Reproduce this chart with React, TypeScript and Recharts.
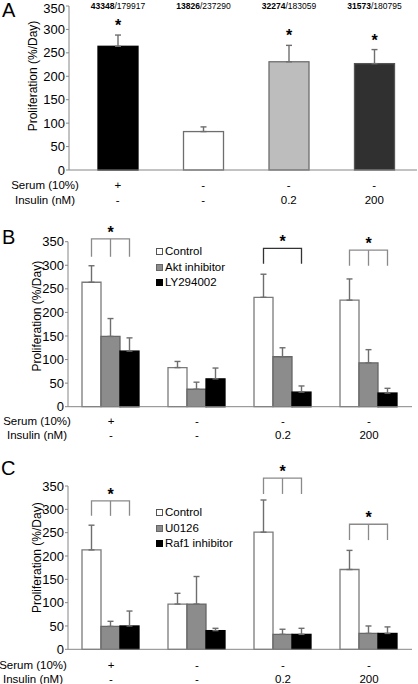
import { Bar, BarChart, Cell, ErrorBar, Legend, XAxis, YAxis } from 'recharts'

const FONT = '"Liberation Sans", Arial, Helvetica, sans-serif'
const AXIS_GRAY = '#868686'

const groups = ['serum', 'basal', 'ins02', 'ins200']
const serumRow = ['+', '-', '-', '-']
const insulinRow = ['-', '-', '0.2', '200']
const yTicks = [0, 50, 100, 150, 200, 250, 300, 350]

// panel A
const aMeans = [264, 82, 231, 227]
const aErrors = [24, 10, 35, 30]
const aCountsBold = ['43348', '13826', '32274', '31573']
const aCountsTotal = ['179917', '237290', '183059', '180795']
const aSignificant = [true, false, true, true]

// panel B
const bNames = ['Control', 'Akt inhibitor', 'LY294002']
const bControl = [264, 83, 232, 226]
const bControlErr = [35, 13, 49, 45]
const bAkt = [149, 37, 106, 93]
const bAktErr = [38, 15, 19, 28]
const bLy = [118, 59, 31, 29]
const bLyErr = [28, 23, 13, 10]
const bBracketTop = [356, null, 336, 332]
const bBracketBottom = [318, null, 303, 299]
const bBracketMid = [true, false, false, true]

// panel C
const cNames = ['Control', 'U0126', 'Raf1 inhibitor']
const cControl = [213, 97, 251, 171]
const cControlErr = [53, 23, 69, 41]
const cU0126 = [49, 97, 32, 34]
const cU0126Err = [11, 59, 11, 16]
const cRaf1 = [50, 40, 32, 34]
const cRaf1Err = [32, 5, 13, 14]
const cBracketTop = [318, null, 367, 268]
const cBracketBottom = [286, null, 333, 234]
const cBracketMid = [true, false, true, true]

const A_FILLS = ['#000000', '#ffffff', '#bdbdbd', '#303030']
const A_STROKES = ['#000000', '#6e6e6e', '#6e6e6e', '#555555']
const TRIPLE_FILLS = ['#ffffff', '#8c8c8c', '#000000']
const TRIPLE_STROKES = ['#7a7a7a', '#666666', '#000000']

const aData = groups.map((g, i) => ({
  group: g,
  mean: aMeans[i],
  err: [0, aErrors[i]],
  bold: aCountsBold[i],
  total: aCountsTotal[i],
  star: aSignificant[i],
}))

function tripleData(
  s0: number[], e0: number[], s1: number[], e1: number[], s2: number[], e2: number[],
  top: (number | null)[], bottom: (number | null)[], mid: boolean[],
) {
  return groups.map((g, i) => ({
    group: g,
    s0: s0[i], e0: [0, e0[i]],
    s1: s1[i], e1: [0, e1[i]],
    s2: s2[i], e2: [0, e2[i]],
    bracketTop: top[i],
    bracketBottom: bottom[i],
    bracketMid: mid[i],
  }))
}

const bData = tripleData(bControl, bControlErr, bAkt, bAktErr, bLy, bLyErr, bBracketTop, bBracketBottom, bBracketMid)
const cData = tripleData(cControl, cControlErr, cU0126, cU0126Err, cRaf1, cRaf1Err, cBracketTop, cBracketBottom, cBracketMid)

function makeRowTick(labelX: number, serumDy: number, insulinDy: number) {
  return function RowTick(props: any) {
    const { x, y, index } = props
    return (
      <g fontFamily={FONT} fontSize={11.5} fill="#000">
        <text x={x} y={y + serumDy} textAnchor="middle" dominantBaseline="central">{serumRow[index]}</text>
        <text x={x} y={y + insulinDy} textAnchor="middle" dominantBaseline="central">{insulinRow[index]}</text>
        {index === 0 && (
          <>
            <text x={labelX} y={y + serumDy} textAnchor="middle" dominantBaseline="central">Serum (10%)</text>
            <text x={labelX} y={y + insulinDy} textAnchor="middle" dominantBaseline="central">Insulin (nM)</text>
          </>
        )}
      </g>
    )
  }
}

function makeYLabel(cx: number, dy: number) {
  return function YLabel(props: any) {
    const vb = props.viewBox
    const cy = vb.y + vb.height / 2 + dy
    return (
      <text
        x={cx}
        y={cy}
        transform={`rotate(-90 ${cx} ${cy})`}
        textAnchor="middle"
        dominantBaseline="central"
        fontFamily={FONT}
        fontSize={12}
        fill="#000"
      >
        Proliferation (%/Day)
      </text>
    )
  }
}

function Star({ x, y }: { x: number; y: number }) {
  // y is the visual centre of the asterisk
  return (
    <text x={x} y={y + 9} textAnchor="middle" fontFamily={FONT} fontSize={16} fontWeight="bold" fill="#000">
      *
    </text>
  )
}

function ABarShape(props: any) {
  const { x, y, width, height, fill, stroke, payload } = props
  const ppu = height / payload.mean
  const base = y + height
  const errTop = base - (payload.mean + payload.err[1]) * ppu
  const plotTop = base - 350 * ppu
  const cx = x + width / 2
  return (
    <g>
      <rect x={x} y={y} width={width} height={height} fill={fill} stroke={stroke} strokeWidth={1.3} />
      <text x={cx} y={plotTop + 3} textAnchor="middle" fontFamily={FONT} fontSize={8.5} fill="#000">
        <tspan fontWeight="bold">{payload.bold}</tspan>/{payload.total}
      </text>
      {payload.star && <Star x={cx} y={errTop - 13} />}
    </g>
  )
}

function makeBracketShape(color: (i: number) => string) {
  return function BracketShape(props: any) {
    const { x, y, width, height, fill, stroke, payload, index } = props
    const ppu = height / payload.s2
    const base = y + height
    const x3 = x + width / 2
    const x2 = x3 - width
    const x1 = x3 - 2 * width
    const hasBracket = payload.bracketTop != null
    const topY = base - (payload.bracketTop ?? 0) * ppu
    const bottomY = base - (payload.bracketBottom ?? 0) * ppu
    const c = color(index)
    return (
      <g>
        <rect x={x} y={y} width={width} height={height} fill={fill} stroke={stroke} strokeWidth={1.3} />
        {hasBracket && (
          <g stroke={c} strokeWidth={1.3} fill="none">
            <polyline points={`${x1},${bottomY} ${x1},${topY} ${x3},${topY} ${x3},${bottomY}`} />
            {payload.bracketMid && <line x1={x2} y1={topY} x2={x2} y2={bottomY} />}
          </g>
        )}
        {hasBracket && <Star x={x2} y={topY - 10} />}
      </g>
    )
  }
}

function makeLegend(names: string[]) {
  return function SeriesLegend() {
    return (
      <div style={{ fontFamily: FONT, fontSize: 11.5, lineHeight: '15.5px', color: '#000' }}>
        {names.map((n, i) => (
          <div key={n} style={{ display: 'flex', alignItems: 'center', whiteSpace: 'nowrap' }}>
            <span
              style={{
                display: 'inline-block',
                width: 5,
                height: 5,
                background: TRIPLE_FILLS[i],
                border: `1px solid ${i === 0 ? '#555' : TRIPLE_STROKES[i]}`,
                marginRight: 2,
              }}
            />
            {n}
          </div>
        ))}
      </div>
    )
  }
}

const tickStyle = { fontFamily: FONT, fontSize: 13, fill: '#000' }

type TripleProps = {
  data: ReturnType<typeof tripleData>
  names: string[]
  top: number
  height: number
  margin: { top: number; bottom: number; right: number }
  yLabel: { cx: number; dy: number }
  rowLabelX: number
  rowDy: [number, number]
  legendPos: { left: number; top: number }
  bracketColor: (i: number) => string
}

function TriplePanel({ data, names, top, height, margin, yLabel, rowLabelX, rowDy, legendPos, bracketColor }: TripleProps) {
  return (
    <div style={{ position: 'absolute', left: 0, top, width: 418, height }}>
      <BarChart
        width={418}
        height={height}
        data={data}
        margin={{ top: margin.top, right: margin.right, bottom: margin.bottom, left: 0 }}
        barCategoryGap={14}
        barGap={0}
      >
        <XAxis
          dataKey="group"
          interval={0}
          tickSize={0}
          tickLine={false}
          height={30}
          stroke={AXIS_GRAY}
          tick={makeRowTick(rowLabelX, rowDy[0], rowDy[1])}
        />
        <YAxis
          width={68}
          domain={[0, 350]}
          ticks={yTicks}
          tickSize={3}
          tickMargin={1}
          stroke={AXIS_GRAY}
          tick={tickStyle}
          label={makeYLabel(yLabel.cx, yLabel.dy)}
        />
        <Legend
          layout="horizontal"
          verticalAlign="middle"
          align="center"
          content={makeLegend(names)}
          wrapperStyle={{ left: legendPos.left, top: legendPos.top, width: 'auto' }}
        />
        <Bar dataKey="s0" name={names[0]} fill={TRIPLE_FILLS[0]} stroke={TRIPLE_STROKES[0]} strokeWidth={1.3} isAnimationActive={false}>
          <ErrorBar dataKey="e0" width={3} stroke="#6e6e6e" strokeWidth={1.4} direction="y" />
        </Bar>
        <Bar dataKey="s1" name={names[1]} fill={TRIPLE_FILLS[1]} stroke={TRIPLE_STROKES[1]} strokeWidth={1.3} isAnimationActive={false}>
          <ErrorBar dataKey="e1" width={3} stroke="#6e6e6e" strokeWidth={1.4} direction="y" />
        </Bar>
        <Bar
          dataKey="s2"
          name={names[2]}
          fill={TRIPLE_FILLS[2]}
          stroke={TRIPLE_STROKES[2]}
          isAnimationActive={false}
          shape={makeBracketShape(bracketColor)}
        >
          <ErrorBar dataKey="e2" width={3} stroke="#6e6e6e" strokeWidth={1.4} direction="y" />
        </Bar>
      </BarChart>
    </div>
  )
}

export default function App() {
  return (
    <div style={{ position: 'absolute', left: 0, top: 0, width: 418, height: 684, background: '#fff' }}>
      <div style={{ position: 'absolute', left: 0, top: 0, width: 418, height: 215 }}>
        <BarChart
          width={418}
          height={215}
          data={aData}
          margin={{ top: 6, right: 1, bottom: 15, left: 0 }}
          barCategoryGap={23}
        >
          <XAxis
            dataKey="group"
            interval={0}
            tickSize={0}
            tickLine={false}
            height={30}
            padding={{ left: 6, right: 0 }}
            stroke={AXIS_GRAY}
            tick={makeRowTick(45, 13, 28)}
          />
          <YAxis
            width={69}
            domain={[0, 350]}
            ticks={yTicks}
            tickSize={3}
            tickMargin={1}
            stroke={AXIS_GRAY}
            tick={tickStyle}
            label={makeYLabel(33, -12)}
          />
          <Bar dataKey="mean" isAnimationActive={false} shape={ABarShape}>
            {aData.map((d, i) => (
              <Cell key={d.group} fill={A_FILLS[i]} stroke={A_STROKES[i]} />
            ))}
            <ErrorBar dataKey="err" width={3} stroke="#6e6e6e" strokeWidth={1.4} direction="y" />
          </Bar>
        </BarChart>
      </div>

      <TriplePanel
        data={bData}
        names={bNames}
        top={215}
        height={235}
        margin={{ top: 26.7, bottom: 13.3, right: 6 }}
        yLabel={{ cx: 37, dy: -8 }}
        rowLabelX={37}
        rowDy={[12.5, 26]}
        legendPos={{ left: 156, top: 29 }}
        bracketColor={(i) => (i === 2 ? '#333333' : '#8a8a8a')}
      />

      <TriplePanel
        data={cData}
        names={cNames}
        top={450}
        height={234}
        margin={{ top: 36, bottom: 4.7, right: 6 }}
        yLabel={{ cx: 37, dy: -10 }}
        rowLabelX={33}
        rowDy={[14, 27.5]}
        legendPos={{ left: 156, top: 55 }}
        bracketColor={() => '#8a8a8a'}
      />

      <svg
        width={418}
        height={684}
        style={{ position: 'absolute', left: 0, top: 0, pointerEvents: 'none' }}
        fontFamily={FONT}
        fontSize={20}
        fill="#000"
      >
        <text x={2} y={16.5}>A</text>
        <text x={2} y={243.5}>B</text>
        <text x={1} y={475}>C</text>
      </svg>
    </div>
  )
}
